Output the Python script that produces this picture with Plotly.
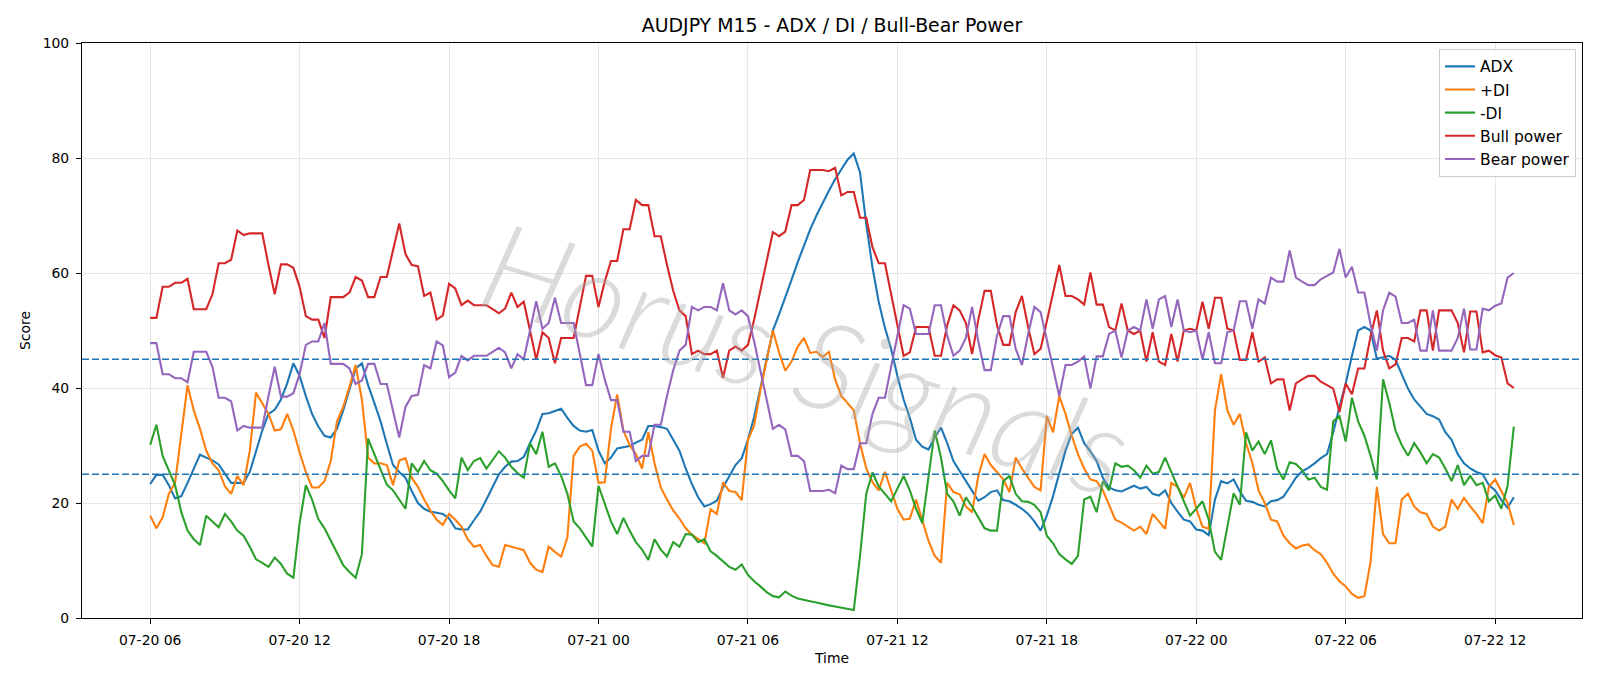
import pandas as pd
import plotly.graph_objects as go

# ---------------- data (15-minute bars) ----------------
start_time = "2025-07-20 06:00"

adx = [23.3, 24.9, 24.9, 23.1, 20.8, 21.2, 23.5, 26.0, 28.4, 27.9,
       27.4, 26.7, 25.2, 23.5, 23.5, 23.5, 25.4, 29.1, 32.6, 35.5,
       36.2, 38.0, 40.8, 44.3, 42.1, 38.6, 35.5, 33.3, 31.7, 31.4,
       32.9, 36.1, 39.9, 43.4, 44.3, 40.5, 37.4, 34.2, 30.3, 26.6,
       25.4, 24.4, 22.1, 20.0, 19.0, 18.5, 18.3, 18.1, 17.3, 15.6,
       15.4, 15.4, 17.0, 18.5, 20.6, 22.8, 25.0, 26.3, 27.2, 27.3,
       28.0, 30.4, 32.6, 35.5, 35.6, 36.0, 36.4, 34.8, 33.4, 32.6,
       32.4, 32.7, 29.1, 26.9, 27.9, 29.5, 29.7, 29.9, 30.5, 31.0,
       33.4, 33.4, 33.2, 32.9, 31.0, 29.1, 26.0, 23.3, 21.0, 19.4,
       19.8, 20.4, 22.7, 24.7, 26.6, 27.8, 31.0, 35.0, 40.0, 45.1,
       50.0, 52.8, 55.7, 58.8, 61.9, 64.8, 67.6, 70.0, 72.2, 74.3,
       76.3, 78.1, 79.7, 80.8, 77.5, 68.5, 61.0, 55.0, 50.5, 46.8,
       42.1, 38.0, 34.8, 31.0, 29.8, 29.3, 31.4, 33.1, 30.4, 27.3,
       25.5, 23.8, 22.1, 20.4, 21.0, 21.9, 22.2, 20.5, 20.3, 19.7,
       19.0, 18.1, 16.8, 15.2, 17.8, 21.2, 25.0, 29.1, 32.0, 33.1,
       30.4, 29.0, 27.3, 24.4, 22.7, 22.2, 22.0, 22.5, 23.0, 22.5,
       22.8, 21.6, 21.3, 22.2, 20.0, 18.5, 17.1, 16.8, 15.4, 15.2,
       14.4, 20.6, 23.8, 23.4, 24.1, 22.0, 20.4, 20.2, 19.7, 19.4,
       20.3, 20.5, 21.1, 22.7, 24.4, 25.5, 26.1, 26.9, 27.8, 28.5,
       32.3, 36.7, 40.8, 45.6, 50.0, 50.6, 50.0, 45.1, 45.3, 45.6,
       44.9, 42.3, 39.9, 38.0, 36.7, 35.5, 35.1, 34.5, 32.3, 31.0,
       28.5, 26.9, 26.0, 25.4, 25.0, 23.1, 22.2, 20.5, 19.2, 21.0]

plus_di = [17.8, 15.6, 17.5, 21.6, 23.5, 32.4, 40.5, 36.1, 32.9, 29.1,
           26.9, 25.7, 22.9, 21.6, 24.7, 23.1, 29.1, 39.2, 37.4, 35.5,
           32.6, 32.8, 35.5, 32.6, 28.8, 25.4, 22.7, 22.7, 23.8, 27.3,
           34.2, 36.7, 40.2, 44.0, 38.0, 27.9, 26.9, 26.9, 26.6, 23.1,
           27.4, 27.8, 24.4, 22.8, 20.6, 18.7, 17.1, 16.2, 18.1, 17.1,
           15.9, 13.7, 12.4, 12.7, 10.8, 9.2, 8.9, 12.7, 12.4, 12.1,
           11.8, 9.6, 8.4, 8.0, 12.4, 11.5, 10.7, 14.0, 28.2, 29.8,
           30.3, 29.1, 23.5, 23.6, 32.9, 38.9, 32.6, 30.1, 28.5, 26.0,
           32.3, 26.9, 22.7, 20.6, 18.7, 17.3, 15.6, 14.5, 13.7, 13.0,
           18.9, 18.1, 23.6, 22.1, 21.9, 20.5, 31.0, 33.5, 39.6, 44.9,
           50.0, 46.2, 43.0, 44.6, 47.2, 48.7, 46.1, 46.3, 45.4, 46.3,
           41.5, 38.6, 37.4, 36.1, 30.4, 26.0, 23.6, 22.2, 25.4, 22.2,
           19.0, 17.1, 17.3, 20.6, 17.1, 13.4, 10.8, 9.6, 23.5, 21.9,
           21.5, 19.4, 18.4, 24.7, 28.5, 26.6, 25.4, 24.1, 21.9, 27.9,
           26.0, 24.4, 22.8, 22.2, 35.1, 32.3, 38.6, 35.5, 31.7, 28.5,
           26.0, 24.1, 23.8, 22.2, 19.7, 17.1, 16.6, 15.9, 15.2, 15.9,
           14.6, 18.1, 16.8, 15.5, 23.5, 22.8, 20.9, 23.5, 19.0, 15.9,
           15.5, 36.1, 42.4, 36.1, 33.6, 35.5, 30.4, 27.0, 22.2, 20.0,
           17.1, 16.8, 14.3, 13.0, 12.1, 12.6, 12.8, 11.8, 11.1, 9.6,
           7.7, 6.4, 5.5, 4.2, 3.5, 3.8, 9.8, 22.8, 14.6, 13.0,
           13.0, 20.6, 21.6, 19.4, 18.4, 18.1, 15.9, 15.2, 15.9, 20.6,
           19.0, 20.9, 19.4, 18.1, 16.5, 22.8, 24.1, 22.0, 20.0, 16.2]

minus_di = [30.1, 33.6, 28.2, 25.7, 23.1, 18.4, 15.2, 13.7, 12.7, 17.8,
            16.8, 15.8, 18.1, 16.8, 15.2, 14.3, 12.4, 10.2, 9.6, 8.9,
            10.5, 9.4, 7.7, 7.0, 16.5, 23.1, 20.6, 17.2, 15.6, 13.5,
            11.5, 9.2, 8.0, 7.0, 11.1, 31.2, 28.5, 26.0, 23.2, 22.2,
            20.6, 19.0, 26.9, 25.4, 27.3, 25.7, 25.1, 23.8, 22.2, 20.8,
            27.9, 25.7, 27.3, 27.8, 26.0, 27.4, 29.0, 27.9, 26.3, 25.2,
            24.4, 30.4, 28.5, 32.4, 26.3, 26.9, 24.7, 21.6, 16.8, 15.6,
            14.0, 12.4, 23.0, 20.0, 16.8, 14.6, 17.4, 15.2, 13.2, 11.9,
            10.1, 13.7, 11.9, 10.7, 13.2, 12.4, 14.6, 14.5, 13.2, 13.7,
            11.6, 10.8, 9.9, 8.9, 8.4, 9.3, 7.5, 6.4, 5.5, 4.5,
            3.8, 3.6, 4.6, 3.9, 3.4, 3.1, 2.9, 2.7, 2.4, 2.2,
            2.0, 1.8, 1.6, 1.4, 10.8, 21.6, 25.3, 22.9, 21.6, 20.3,
            22.5, 24.7, 22.2, 19.0, 16.5, 24.7, 32.6, 27.9, 21.6, 20.3,
            17.8, 21.0, 19.4, 17.5, 15.6, 15.2, 15.2, 23.8, 24.7, 21.6,
            20.3, 20.2, 19.7, 18.4, 14.3, 13.0, 11.1, 10.2, 9.4, 10.8,
            20.6, 21.1, 18.4, 23.8, 22.2, 26.9, 26.3, 26.5, 25.7, 24.4,
            26.5, 25.1, 25.4, 27.9, 25.4, 22.8, 20.3, 17.8, 19.0, 20.3,
            17.1, 11.5, 10.1, 15.9, 21.7, 19.7, 32.3, 29.1, 30.7, 28.5,
            30.9, 26.0, 24.1, 27.1, 26.8, 25.7, 24.1, 24.4, 22.8, 22.3,
            34.2, 35.1, 30.7, 38.3, 34.2, 31.7, 28.2, 24.1, 41.5, 37.4,
            32.6, 30.1, 28.2, 30.4, 28.8, 26.9, 28.5, 27.9, 26.0, 23.8,
            26.6, 23.1, 24.7, 23.1, 23.5, 20.3, 21.3, 19.0, 23.0, 33.3]

bull_power = [52.2, 52.2, 57.6, 57.6, 58.3, 58.3, 59.0, 53.7, 53.7, 53.7,
              56.3, 61.7, 61.7, 62.3, 67.4, 66.6, 66.9, 66.9, 66.9, 61.4,
              56.3, 61.5, 61.5, 60.9, 57.6, 52.5, 51.9, 51.9, 48.7, 55.8,
              55.8, 55.8, 56.6, 59.3, 58.7, 55.8, 55.8, 59.3, 59.3, 63.9,
              68.6, 63.3, 61.4, 61.2, 56.0, 56.6, 51.9, 52.6, 58.1, 57.3,
              54.4, 55.2, 54.4, 54.4, 54.4, 53.7, 53.0, 53.8, 56.6, 54.1,
              55.0, 50.0, 44.9, 49.7, 48.7, 44.3, 48.7, 48.7, 48.7, 54.1,
              59.5, 59.5, 54.1, 58.5, 62.1, 62.1, 67.6, 67.6, 72.7, 71.8,
              71.8, 66.4, 66.4, 61.4, 56.9, 53.5, 52.5, 45.9, 46.5, 45.9,
              45.9, 46.5, 41.8, 46.5, 47.2, 46.5, 47.5, 51.9, 56.9, 61.7,
              67.1, 66.4, 67.2, 71.8, 71.8, 72.7, 77.9, 77.9, 77.9, 77.7,
              78.3, 73.5, 74.1, 74.1, 69.6, 69.6, 64.5, 61.7, 61.7, 56.3,
              50.9, 45.6, 46.2, 50.6, 50.6, 50.6, 45.6, 45.6, 50.9, 54.4,
              53.5, 51.3, 45.9, 51.9, 56.9, 56.9, 50.9, 47.5, 47.5, 53.2,
              56.0, 50.6, 45.9, 46.8, 51.6, 56.3, 61.4, 56.0, 56.0, 55.4,
              54.5, 60.1, 54.5, 54.5, 50.6, 50.0, 54.7, 50.0, 49.4, 50.0,
              44.6, 49.7, 44.6, 44.0, 49.4, 44.6, 50.0, 50.3, 50.0, 55.0,
              50.3, 55.7, 55.7, 50.3, 50.0, 44.9, 44.9, 49.7, 44.6, 45.3,
              40.8, 41.5, 41.5, 36.1, 40.8, 41.5, 42.1, 42.1, 41.1, 40.5,
              39.9, 35.8, 40.8, 38.9, 43.4, 43.4, 49.0, 53.5, 46.5, 43.4,
              44.1, 48.7, 48.7, 48.1, 53.5, 53.5, 46.5, 53.5, 53.5, 53.5,
              51.3, 46.2, 53.3, 53.3, 46.2, 46.5, 45.7, 45.3, 40.8, 40.0]

bear_power = [47.8, 47.8, 42.4, 42.4, 41.7, 41.7, 41.0, 46.3, 46.3, 46.3,
              43.7, 38.3, 38.3, 37.7, 32.6, 33.4, 33.1, 33.1, 33.1, 38.6,
              43.7, 38.5, 38.5, 39.1, 42.4, 47.5, 48.1, 48.1, 51.3, 44.2,
              44.2, 44.2, 43.4, 40.7, 41.3, 44.2, 44.2, 40.7, 40.7, 36.1,
              31.4, 36.7, 38.6, 38.8, 44.0, 43.4, 48.1, 47.4, 41.9, 42.7,
              45.6, 44.8, 45.6, 45.6, 45.6, 46.3, 47.0, 46.2, 43.4, 45.9,
              45.0, 50.0, 55.1, 50.3, 51.3, 55.7, 51.3, 51.3, 51.3, 45.9,
              40.5, 40.5, 45.9, 41.5, 37.9, 37.9, 32.4, 32.4, 27.3, 28.2,
              28.2, 33.6, 33.6, 38.6, 43.1, 46.5, 47.5, 54.1, 53.5, 54.1,
              54.1, 53.5, 58.2, 53.5, 52.8, 53.5, 52.5, 48.1, 43.1, 38.3,
              32.9, 33.6, 32.8, 28.2, 28.2, 27.3, 22.1, 22.1, 22.1, 22.3,
              21.7, 26.5, 25.9, 25.9, 30.4, 30.4, 35.5, 38.3, 38.3, 43.7,
              49.1, 54.4, 53.8, 49.4, 49.4, 49.4, 54.4, 54.4, 49.1, 45.6,
              46.5, 48.7, 54.1, 48.1, 43.1, 43.1, 49.1, 52.5, 52.5, 46.8,
              44.0, 49.4, 54.1, 53.2, 48.4, 43.7, 38.6, 44.0, 44.0, 44.6,
              45.5, 39.9, 45.5, 45.5, 49.4, 50.0, 45.3, 50.0, 50.6, 50.0,
              55.4, 50.3, 55.4, 56.0, 50.6, 55.4, 50.0, 49.7, 50.0, 45.0,
              49.7, 44.3, 44.3, 49.7, 50.0, 55.1, 55.1, 50.3, 55.4, 54.7,
              59.2, 58.5, 58.5, 63.9, 59.2, 58.5, 57.9, 57.9, 58.9, 59.5,
              60.1, 64.2, 59.2, 61.1, 56.6, 56.6, 51.0, 46.5, 53.5, 56.6,
              55.9, 51.3, 51.3, 51.9, 46.5, 46.5, 53.5, 46.5, 46.5, 46.5,
              48.7, 53.8, 46.7, 46.7, 53.8, 53.5, 54.3, 54.7, 59.2, 60.0]

threshold_levels = [25, 45]
series_names = ["ADX", "+DI", "-DI", "Bull power", "Bear power"]
series_colors = ["#1f77b4", "#ff7f0e", "#2ca02c", "#d62728", "#9467bd"]

# ---------------- figure ----------------
times = pd.date_range(start_time, periods=len(adx), freq="15min")
span = times[-1] - times[0]
x_range = [times[0] - span * 0.05, times[-1] + span * 0.05]

FONT = "DejaVu Sans"
fig = go.Figure()
for name, vals, color in zip(series_names,
                             [adx, plus_di, minus_di, bull_power, bear_power],
                             series_colors):
    fig.add_trace(go.Scatter(x=times, y=vals, mode="lines", name=name,
                             legendgroup=name,
                             line=dict(color=color, width=2.1)))

for lv in threshold_levels:
    fig.add_hline(y=lv, line=dict(color="#1f77b4", width=1.4, dash="7px,3px"),
                  layer="above")

fig.add_annotation(text="Horus Signals", xref="paper", yref="paper",
                   x=0.483, y=0.455, showarrow=False, textangle=17,
                   font=dict(family="Lato", size=122, weight=300,
                             color="rgba(165,165,165,0.4)", style="italic"))

fig.update_layout(
    width=1600, height=686,
    margin=dict(l=82, r=18, t=43, b=68),
    paper_bgcolor="white", plot_bgcolor="white",
    font=dict(family=FONT, size=14, color="black"),
    title=dict(text="AUDJPY M15 - ADX / DI / Bull-Bear Power",
               x=0.5, xref="paper", xanchor="center",
               y=1 - 25.5 / 686, yref="container", yanchor="middle",
               font=dict(size=18.9, color="black")),
    legend=dict(x=0.996, xanchor="right", y=0.99, yanchor="top",
                bgcolor="rgba(255,255,255,0.85)", bordercolor="#cccccc",
                borderwidth=1, font=dict(size=15.5), tracegroupgap=0,
                itemwidth=30),
    showlegend=True,
)
fig.update_xaxes(
    type="date", range=x_range, tickformat="%m-%d %H",
    dtick=6 * 3600 * 1000, tick0="2025-07-20 00:00",
    showgrid=True, gridcolor="#e6e6e6", gridwidth=1,
    ticks="outside", ticklen=5, tickcolor="black", tickwidth=1,
    showline=True, mirror=True, linecolor="black", linewidth=1.1,
    tickfont=dict(size=13.9), ticklabelstandoff=4,
    title=dict(text="Time", font=dict(size=13.9), standoff=6),
    zeroline=False,
)
fig.update_yaxes(
    range=[0, 100], tickvals=[0, 20, 40, 60, 80, 100],
    showgrid=True, gridcolor="#e6e6e6", gridwidth=1,
    ticks="outside", ticklen=5, tickcolor="black", tickwidth=1,
    showline=True, mirror=True, linecolor="black", linewidth=1.1,
    tickfont=dict(size=13.9), ticklabelstandoff=4,
    title=dict(text="Score", font=dict(size=13.9), standoff=8),
    zeroline=False,
)

fig.write_html("out.html")
